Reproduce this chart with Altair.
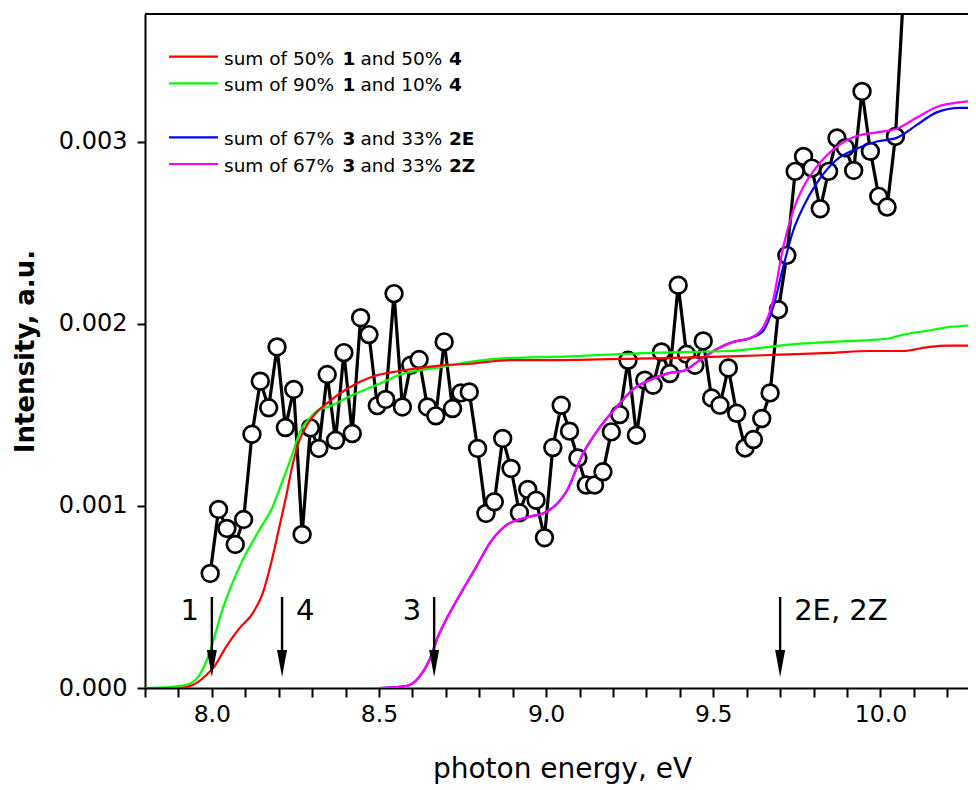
import altair as alt
import pandas as pd

# ---------------- data ----------------
# experimental points (photon energy, eV / intensity, a.u.)
exp_E = [7.995, 8.020, 8.045, 8.070, 8.095, 8.120, 8.145, 8.170, 8.195, 8.220,
         8.245, 8.270, 8.295, 8.320, 8.345, 8.370, 8.395, 8.420, 8.445, 8.470,
         8.495, 8.520, 8.545, 8.570, 8.595, 8.620, 8.645, 8.670, 8.695, 8.720,
         8.745, 8.770, 8.795, 8.820, 8.845, 8.870, 8.895, 8.920, 8.945, 8.970,
         8.995, 9.020, 9.045, 9.070, 9.095, 9.120, 9.145, 9.170, 9.195, 9.220,
         9.245, 9.270, 9.295, 9.320, 9.345, 9.370, 9.395, 9.420, 9.445, 9.470,
         9.495, 9.520, 9.545, 9.570, 9.595, 9.620, 9.645, 9.670, 9.695, 9.720,
         9.745, 9.770, 9.795, 9.820, 9.845, 9.870, 9.895, 9.920, 9.945, 9.970,
         9.995, 10.020, 10.045, 10.070]
exp_I = [0.000629, 0.000980, 0.000876, 0.000788, 0.000925, 0.001393, 0.001684, 0.001538, 0.001872, 0.001430,
         0.001639, 0.000843, 0.001428, 0.001315, 0.001721, 0.001360, 0.001841, 0.001397, 0.002033, 0.001940,
         0.001550, 0.001584, 0.002165, 0.001543, 0.001772, 0.001803, 0.001543, 0.001494, 0.001900, 0.001534,
         0.001620, 0.001625, 0.001315, 0.000958, 0.001022, 0.001370, 0.001205, 0.000962, 0.001090, 0.001031,
         0.000825, 0.001320, 0.001552, 0.001410, 0.001263, 0.001114, 0.001114, 0.001187, 0.001406, 0.001501,
         0.001799, 0.001388, 0.001690, 0.001662, 0.001845, 0.001726, 0.002211, 0.001832, 0.001772, 0.001905,
         0.001592, 0.001552, 0.001757, 0.001508, 0.001318, 0.001364, 0.001479, 0.001620, 0.002077, 0.002375,
         0.002836, 0.002918, 0.002854, 0.002631, 0.002836, 0.003019, 0.002966, 0.002841, 0.003275, 0.002946,
         0.002699, 0.002640, 0.003028, 0.003850]

# sum of 50% 1 and 50% 4 (red)
red_E = [7.800, 7.903, 7.943, 7.983, 8.007, 8.043, 8.082, 8.122, 8.152, 8.177,
         8.202, 8.222, 8.242, 8.262, 8.287, 8.317, 8.342, 8.402, 8.481, 8.561,
         8.681, 8.771, 8.891, 9.010, 9.310, 9.549, 9.699, 9.849, 9.968, 10.068,
         10.138, 10.198, 10.262]
red_I = [0.0, 0.0, 0.000016, 0.00007, 0.000117, 0.000227, 0.000327, 0.00041, 0.00052, 0.000684,
         0.000885, 0.00105, 0.00123, 0.00136, 0.00145, 0.00152, 0.00156, 0.00164, 0.00171, 0.00174,
         0.00177, 0.00178, 0.0018, 0.0018, 0.00181, 0.00182, 0.00183, 0.00184, 0.00185, 0.00185,
         0.00187, 0.00188, 0.00188]

# sum of 90% 1 and 10% 4 (green)
green_E = [7.800, 7.882, 7.933, 7.972, 8.002, 8.028, 8.057, 8.092, 8.142, 8.182,
           8.212, 8.242, 8.262, 8.292, 8.322, 8.342, 8.422, 8.501, 8.561, 8.681,
           8.771, 8.871, 9.070, 9.310, 9.549, 9.609, 9.699, 9.849, 9.968, 10.028,
           10.048, 10.098, 10.138, 10.198, 10.262]
green_I = [0.0, 0.000007, 0.000022, 0.0001, 0.000245, 0.00041, 0.000556, 0.000702, 0.000867, 0.000995,
           0.00114, 0.00129, 0.0014, 0.00148, 0.00153, 0.00154, 0.00161, 0.00167, 0.00172, 0.00176,
           0.00179, 0.00181, 0.00182, 0.00184, 0.00185, 0.00186, 0.00188, 0.0019, 0.00191, 0.00192,
           0.00193, 0.00195, 0.00196, 0.00198, 0.00199]

# sum of 67% 3 and 33% 2Z (magenta)
mag_E = [8.502, 8.581, 8.621, 8.651, 8.676, 8.711, 8.751, 8.791, 8.831, 8.881,
         8.941, 9.001, 9.061, 9.111, 9.160, 9.210, 9.260, 9.310, 9.370, 9.410,
         9.460, 9.510, 9.560, 9.609, 9.649, 9.679, 9.709, 9.739, 9.769, 9.809,
         9.869, 9.929, 9.989, 10.048, 10.108, 10.168, 10.238, 10.262]
mag_I = [0.0, 0.000011, 0.000062, 0.000154, 0.00028, 0.00041, 0.00054, 0.000665, 0.000794, 0.000894,
         0.000936, 0.000967, 0.00108, 0.00129, 0.00143, 0.00154, 0.00164, 0.00169, 0.00173, 0.00174,
         0.0018, 0.00186, 0.0019, 0.00192, 0.00198, 0.00213, 0.00242, 0.00262, 0.00275, 0.00286,
         0.00297, 0.00303, 0.00305, 0.00307, 0.00313, 0.00319, 0.003216, 0.00322]

# sum of 67% 3 and 33% 2E (blue)
blue_E = [8.502, 8.581, 8.621, 8.651, 8.676, 8.711, 8.751, 8.791, 8.831, 8.881,
          8.941, 9.001, 9.061, 9.111, 9.160, 9.210, 9.260, 9.310, 9.370, 9.410,
          9.460, 9.510, 9.560, 9.609, 9.649, 9.679, 9.709, 9.739, 9.769, 9.809,
          9.869, 9.929, 9.989, 10.048, 10.108, 10.168, 10.238, 10.262]
blue_I = [0.0, 0.000011, 0.000062, 0.000154, 0.00028, 0.00041, 0.00054, 0.000665, 0.000794, 0.000894,
          0.000936, 0.000967, 0.00108, 0.00129, 0.00143, 0.00154, 0.00164, 0.00169, 0.00173, 0.00174,
          0.0018, 0.00186, 0.0019, 0.00192, 0.00196, 0.00209, 0.00231, 0.00251, 0.00264, 0.00277,
          0.0029, 0.00296, 0.0030, 0.00302, 0.00309, 0.00316, 0.003185, 0.003185]

# onset arrows
arrow_E = [8.000, 8.210, 8.665, 9.700]
arrow_labels = ["1", "4", "3", "2E, 2Z"]
arrow_top = 0.0005
arrow_head = 0.000134
label_I = 0.00042

x_ticks = [7.8, 7.9, 8.0, 8.1, 8.2, 8.3, 8.4, 8.5, 8.6, 8.7, 8.8, 8.9, 9.0,
           9.1, 9.2, 9.3, 9.4, 9.5, 9.6, 9.7, 9.8, 9.9, 10.0, 10.1, 10.2]
y_ticks = [0.000, 0.001, 0.002, 0.003]

legend_rows = [
    ("#ff0000", ["sum of 50%", "1", "and 50%", "4"]),
    ("#00ff00", ["sum of 90%", "1", "and 10%", "4"]),
    ("#0000ff", ["sum of 67%", "3", "and 33%", "2E"]),
    ("#ff00ff", ["sum of 67%", "3", "and 33%", "2Z"]),
]

# ---------------- chart ----------------
W, H = 823, 674
FONT = "DejaVu Sans"

xs = alt.Scale(domain=[7.8, 10.262], nice=False, zero=False)
ys = alt.Scale(domain=[0, 0.0037], nice=False, zero=True)

xaxis = alt.Axis(values=x_ticks, grid=False, title="photon energy, eV",
                 labelExpr="abs(datum.value*2 - round(datum.value*2)) < 0.01 ? format(datum.value, '.1f') : ''",
                 tickSize=9, tickWidth=2, tickColor="black", domainColor="black", domainWidth=2,
                 labelFontSize=23.5, labelColor="black", labelPadding=5, labelFlush=False,
                 labelOverlap=False, titleFontSize=28, titleFontWeight="normal", titleColor="black",
                 titleX=417, titleY=81, titleAlign="center", titleBaseline="middle")
yaxis = alt.Axis(values=y_ticks, grid=False, title="Intensity, a.u.", format=".3f",
                 tickSize=8, tickWidth=2, tickColor="black", domainColor="black", domainWidth=2,
                 labelFontSize=24, labelColor="black", labelPadding=10, labelFlush=False,
                 titleFontSize=26, titleFontWeight="bold", titleColor="black",
                 titleX=-120, titleY=H / 2, titleAngle=-90, titleAlign="center", titleBaseline="middle")

X = alt.X("E:Q", scale=xs, axis=xaxis)
Y = alt.Y("I:Q", scale=ys, axis=yaxis)

exp_df = pd.DataFrame({"E": exp_E, "I": exp_I})

exp_line = alt.Chart(exp_df).mark_line(color="black", strokeWidth=3.2, clip=True).encode(x=X, y=Y)
exp_pts = alt.Chart(exp_df).mark_point(shape="circle", filled=False, fill="white", fillOpacity=1,
                                       stroke="black", strokeWidth=2.7, size=280, opacity=1,
                                       clip=True).encode(x=X, y=Y)


def curve(E, I, color):
    return alt.Chart(pd.DataFrame({"E": E, "I": I})).mark_line(
        color=color, strokeWidth=2.2, interpolate="monotone", clip=True).encode(x=X, y=Y)


curves = [curve(blue_E, blue_I, "#0000ff"), curve(mag_E, mag_I, "#ff00ff"),
          curve(green_E, green_I, "#00ff00"), curve(red_E, red_I, "#ff0000")]

arr_df = pd.DataFrame({"E": arrow_E, "top": [arrow_top] * 4, "head": [arrow_head] * 4,
                       "lab": arrow_labels, "ly": [label_I] * 4})
arrow_shaft = alt.Chart(arr_df).mark_rule(color="black", strokeWidth=2.4).encode(
    x=X, y=alt.Y("top:Q", scale=ys, axis=yaxis), y2="head:Q")
arrow_tip = alt.Chart(arr_df).mark_point(shape="M-0.37,-1L0.37,-1L0,1Z", filled=True, color="black",
                                         size=729, opacity=1).encode(
    x=X, y=alt.Y("head:Q", scale=ys, axis=yaxis))
lab_left = alt.Chart(arr_df).transform_filter("datum.lab == '1' || datum.lab == '3'").mark_text(
    align="right", baseline="middle", dx=-13, fontSize=29, font=FONT, color="black").encode(
    x=X, y=alt.Y("ly:Q", scale=ys, axis=yaxis), text="lab:N")
lab_right = alt.Chart(arr_df).transform_filter("datum.lab == '4' || datum.lab == '2E, 2Z'").mark_text(
    align="left", baseline="middle", dx=14, fontSize=29, font=FONT, color="black").encode(
    x=X, y=alt.Y("ly:Q", scale=ys, axis=yaxis), text="lab:N")

# top frame line
top_rule = alt.Chart().mark_rule(color="black", strokeWidth=2).encode(
    x=alt.value(0), x2=alt.value(W), y=alt.value(0))

# manual legend with mixed bold text
legend_layers = []
row_y = [42.7, 69.3, 123.3, 150.0]
piece_x = [79, 197.5, 215.5, 304]
for (color, pieces), ry in zip(legend_rows, row_y):
    legend_layers.append(alt.Chart().mark_rule(color=color, strokeWidth=2.2).encode(
        x=alt.value(24), x2=alt.value(73), y=alt.value(ry)))
    for k, (txt, px) in enumerate(zip(pieces, piece_x)):
        legend_layers.append(alt.Chart().mark_text(
            text=txt, align="left", baseline="alphabetic", fontSize=18.5, font=FONT,
            fontWeight="bold" if k % 2 == 1 else "normal", color="black").encode(
            x=alt.value(px), y=alt.value(ry + 8)))

chart = alt.layer(exp_line, exp_pts, *curves, arrow_shaft, arrow_tip, lab_left, lab_right,
                  top_rule, *legend_layers).properties(
    width=W, height=H,
    autosize=alt.AutoSizeParams(type="none"),
    padding={"left": 137, "top": 6, "right": 0, "bottom": 98},
).configure_view(stroke=None).configure(font=FONT, background="white")

chart.save("out.html", embed_options={"renderer": "svg", "actions": False})
